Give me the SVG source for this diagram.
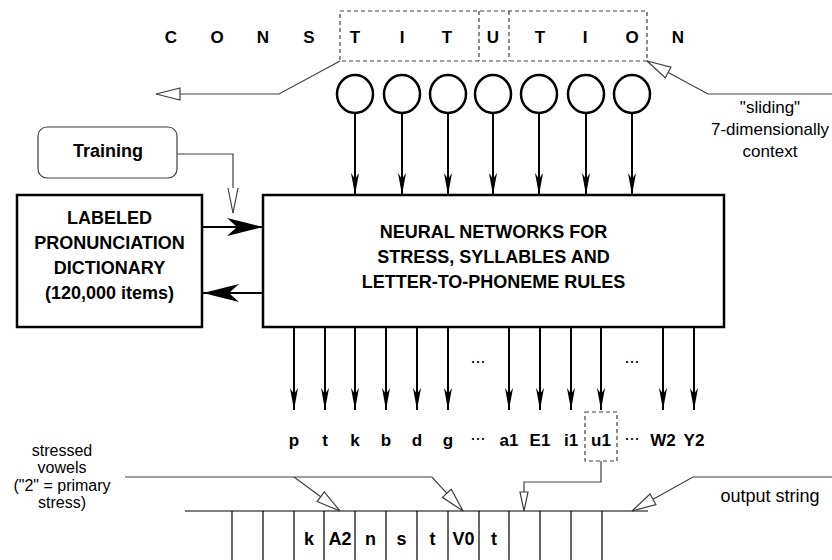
<svg xmlns="http://www.w3.org/2000/svg" width="832" height="560" viewBox="0 0 832 560">
<style>
.b{font-family:"Liberation Sans",Arial,sans-serif;font-weight:bold;fill:#000;text-anchor:middle}
.r{font-family:"Liberation Sans",Arial,sans-serif;fill:#000;text-anchor:middle}
.box{fill:#fff;stroke:#000;stroke-width:2.5}
.thin{fill:none;stroke:#404040;stroke-width:1.2}
.dash{fill:none;stroke:#404040;stroke-width:1.2;stroke-dasharray:4 3}
.stem{fill:none;stroke:#000;stroke-width:2}
.cell{fill:none;stroke:#000;stroke-width:1.2}
.circ{fill:#fff;stroke:#000;stroke-width:2.5}
</style>
<defs>
<marker id="fa" viewBox="0 0 22 8" markerUnits="userSpaceOnUse" markerWidth="22" markerHeight="8" refX="22" refY="4" orient="auto">
<path d="M22,4 L0,0 L6,4 L0,8 Z" fill="#000"/>
</marker>
<marker id="oa" viewBox="0 0 26 14" markerUnits="userSpaceOnUse" markerWidth="26" markerHeight="14" refX="25" refY="7" orient="auto">
<path d="M25,7 L1,1 L1,13 Z" fill="#fff" stroke="#404040" stroke-width="1.2"/>
</marker>
<marker id="os" viewBox="0 0 21 10" markerUnits="userSpaceOnUse" markerWidth="21" markerHeight="10" refX="20" refY="5" orient="auto">
<path d="M20,5 L1,1 L1,9 Z" fill="#fff" stroke="#404040" stroke-width="1.2"/>
</marker>
<marker id="ov" viewBox="0 0 27 12" markerUnits="userSpaceOnUse" markerWidth="27" markerHeight="12" refX="26" refY="6" orient="auto">
<path d="M1,1 L26,6 L1,11" fill="#fff" stroke="#404040" stroke-width="1.2"/>
</marker>
</defs>

<g id="word">
<text class="b" font-size="17" x="171" y="43">C</text>
<text class="b" font-size="17" x="217" y="43">O</text>
<text class="b" font-size="17" x="263" y="43">N</text>
<text class="b" font-size="17" x="309" y="43">S</text>
<text class="b" font-size="17" x="355" y="43">T</text>
<text class="b" font-size="17" x="402" y="43">I</text>
<text class="b" font-size="17" x="447" y="43">T</text>
<text class="b" font-size="17" x="493" y="43">U</text>
<text class="b" font-size="17" x="540" y="43">T</text>
<text class="b" font-size="17" x="585" y="43">I</text>
<text class="b" font-size="17" x="632" y="43">O</text>
<text class="b" font-size="17" x="678" y="43">N</text>
</g>

<g id="window">
<rect class="dash" x="340" y="11" width="307" height="50"/>
<line class="dash" x1="479" y1="11" x2="479" y2="61"/>
<line class="dash" x1="509" y1="11" x2="509" y2="61"/>
</g>

<g id="inputs">
<ellipse class="circ" cx="355" cy="94" rx="18" ry="19"/>
<ellipse class="circ" cx="402" cy="94" rx="18" ry="19"/>
<ellipse class="circ" cx="448" cy="94" rx="18" ry="19"/>
<ellipse class="circ" cx="493" cy="94" rx="18" ry="19"/>
<ellipse class="circ" cx="539" cy="94" rx="18" ry="19"/>
<ellipse class="circ" cx="586" cy="94" rx="18" ry="19"/>
<ellipse class="circ" cx="632" cy="94" rx="18" ry="19"/>
</g>

<g id="training">
<rect x="38" y="127" width="139" height="51" rx="9" fill="#fff" stroke="#404040" stroke-width="1.2"/>
<text class="b" font-size="18" x="108" y="157">Training</text>
</g>

<g id="dictionary">
<rect class="box" x="17" y="195" width="185" height="132"/>
<text class="b" font-size="18" x="109.5" y="224">LABELED</text>
<text class="b" font-size="18" x="109.5" y="249">PRONUNCIATION</text>
<text class="b" font-size="18" x="109.5" y="274">DICTIONARY</text>
<text class="b" font-size="18" x="109.5" y="299">(120,000 items)</text>
</g>

<g id="networks">
<rect class="box" x="263" y="195" width="461" height="132"/>
<text class="b" font-size="18" x="493.5" y="238">NEURAL NETWORKS FOR</text>
<text class="b" font-size="18" x="493.5" y="263">STRESS, SYLLABLES AND</text>
<text class="b" font-size="18" x="493.5" y="288">LETTER-TO-PHONEME RULES</text>
</g>

<g id="outputs">
<text class="b" font-size="17" x="294" y="446">p</text>
<text class="b" font-size="17" x="325" y="446">t</text>
<text class="b" font-size="17" x="355" y="446">k</text>
<text class="b" font-size="17" x="386" y="446">b</text>
<text class="b" font-size="17" x="417" y="446">d</text>
<text class="b" font-size="17" x="448" y="446">g</text>
<text class="r" font-size="18" x="478" y="440">...</text>
<text class="b" font-size="17" x="509" y="446">a1</text>
<text class="b" font-size="17" x="540" y="446">E1</text>
<text class="b" font-size="17" x="571" y="446">i1</text>
<text class="b" font-size="17" x="601" y="446">u1</text>
<text class="r" font-size="18" x="632" y="440">...</text>
<text class="b" font-size="17" x="663" y="446">W2</text>
<text class="b" font-size="17" x="694" y="446">Y2</text>
<text class="r" font-size="18" x="478" y="363">...</text>
<text class="r" font-size="18" x="632" y="363">...</text>
<rect class="dash" x="585" y="412" width="32" height="49"/>
</g>

<g id="string">
<line class="cell" x1="185" y1="511" x2="648" y2="511"/>
<path class="cell" d="M232,511V560M263,511V560M294,511V560M324,511V560M355,511V560M386,511V560M417,511V560M448,511V560M479,511V560M509,511V560M540,511V560M571,511V560M602,511V560"/>
<text class="b" font-size="18" x="309" y="545">k</text>
<text class="b" font-size="18" x="340" y="545">A2</text>
<text class="b" font-size="18" x="370.5" y="545">n</text>
<text class="b" font-size="18" x="401.5" y="545">s</text>
<text class="b" font-size="18" x="432.5" y="545">t</text>
<text class="b" font-size="18" x="463.5" y="545">V0</text>
<text class="b" font-size="18" x="494" y="545">t</text>
</g>

<g id="labels">
<text class="r" font-size="17" x="770" y="113">"sliding"</text>
<text class="r" font-size="17" x="770" y="135">7-dimensionally</text>
<text class="r" font-size="17" x="770" y="157">context</text>
<text class="r" font-size="16" x="62" y="456">stressed</text>
<text class="r" font-size="16" x="62" y="473">vowels</text>
<text class="r" font-size="16" x="62" y="491">("2" = primary</text>
<text class="r" font-size="16" x="62" y="508">stress)</text>
<text class="r" font-size="18" x="770" y="502">output string</text>
</g>

<g id="connectors">
<line class="stem" x1="355" y1="113" x2="355" y2="195" marker-end="url(#fa)"/>
<line class="stem" x1="402" y1="113" x2="402" y2="195" marker-end="url(#fa)"/>
<line class="stem" x1="448" y1="113" x2="448" y2="195" marker-end="url(#fa)"/>
<line class="stem" x1="493" y1="113" x2="493" y2="195" marker-end="url(#fa)"/>
<line class="stem" x1="539" y1="113" x2="539" y2="195" marker-end="url(#fa)"/>
<line class="stem" x1="586" y1="113" x2="586" y2="195" marker-end="url(#fa)"/>
<line class="stem" x1="632" y1="113" x2="632" y2="195" marker-end="url(#fa)"/>

<line class="stem" x1="294" y1="327" x2="294" y2="410" marker-end="url(#fa)"/>
<line class="stem" x1="325" y1="327" x2="325" y2="410" marker-end="url(#fa)"/>
<line class="stem" x1="355" y1="327" x2="355" y2="410" marker-end="url(#fa)"/>
<line class="stem" x1="386" y1="327" x2="386" y2="410" marker-end="url(#fa)"/>
<line class="stem" x1="417" y1="327" x2="417" y2="410" marker-end="url(#fa)"/>
<line class="stem" x1="448" y1="327" x2="448" y2="410" marker-end="url(#fa)"/>
<line class="stem" x1="509" y1="327" x2="509" y2="410" marker-end="url(#fa)"/>
<line class="stem" x1="540" y1="327" x2="540" y2="410" marker-end="url(#fa)"/>
<line class="stem" x1="571" y1="327" x2="571" y2="410" marker-end="url(#fa)"/>
<line class="stem" x1="601" y1="327" x2="601" y2="410" marker-end="url(#fa)"/>
<line class="stem" x1="663" y1="327" x2="663" y2="410" marker-end="url(#fa)"/>
<line class="stem" x1="694" y1="327" x2="694" y2="410" marker-end="url(#fa)"/>

<line class="stem" x1="202" y1="227" x2="263" y2="227"/>
<path d="M263,227 L227,218 L237,227 L227,236 Z" fill="#000"/>
<line class="stem" x1="263" y1="293" x2="203" y2="293"/>
<path d="M203,293 L239,284 L229,293 L239,302 Z" fill="#000"/>

<polyline class="thin" points="177,154 233,154 233,213" marker-end="url(#ov)"/>
<polyline class="thin" points="340,61 279,94 156,94" marker-end="url(#oa)"/>
<polyline class="thin" points="832,94 708,94 647,61" marker-end="url(#oa)"/>

<polyline class="thin" points="125,477 432,477 463,511" marker-end="url(#oa)"/>
<line class="thin" x1="294" y1="477" x2="340" y2="511" marker-end="url(#oa)"/>
<polyline class="thin" points="601,461 601,482 524,482 524,511" marker-end="url(#os)"/>
<polyline class="thin" points="832,477 693,477 632,511" marker-end="url(#oa)"/>
</g>
</svg>
